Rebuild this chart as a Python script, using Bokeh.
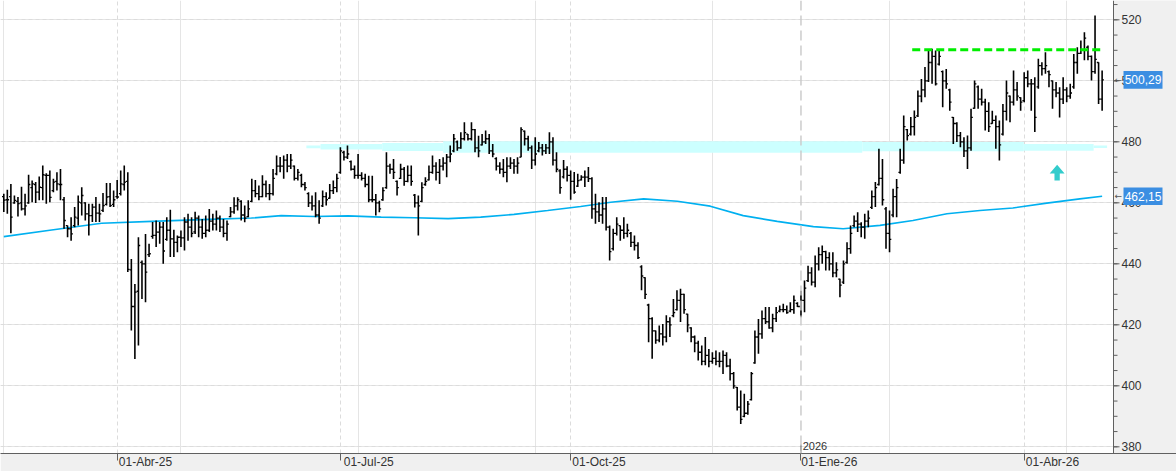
import numpy as np
from bokeh.plotting import figure
from bokeh.models import Range1d, LinearAxis, FixedTicker, Grid, Span, ColumnDataSource
from bokeh.core.properties import value
from bokeh.embed import file_html
from bokeh.resources import INLINE

# ---------------- data (daily OHLC) ----------------
high = [463.0, 464.3, 466.2, 462.4, 461.9, 465.3, 463.0, 469.2, 467.3, 466.8, 468.6, 472.2, 469.7, 470.6, 467.9, 470.0, 471.1, 461.9, 452.6, 455.3,
        458.6, 462.4, 465.1, 460.2, 459.7, 459.7, 461.9, 459.7, 463.2, 466.5, 466.5, 464.0, 467.5, 470.6, 472.2, 470.0, 441.6, 433.4, 448.7, 441.1,
        449.8, 446.6, 453.7, 454.2, 453.7, 453.7, 455.3, 457.7, 451.2, 449.3, 450.9, 455.3,
        456.4, 455.3, 457.1, 455.8, 454.7, 455.8, 458.0, 456.4, 457.5, 455.8, 454.7, 454.2, 458.6, 461.8, 461.8, 460.8, 459.1, 460.8, 467.9, 467.5,
        465.7, 469.0, 467.3, 466.2, 471.1, 475.5, 475.0, 475.5, 476.0, 476.0, 472.2, 471.1, 469.5, 466.8, 463.5, 462.4, 463.5, 460.8, 464.0, 463.5,
        466.2, 467.3, 469.5, 478.2, 477.1, 478.8, 473.9, 472.2, 476.0, 470.0, 469.5, 468.9,
        468.9, 462.9, 460.7, 465.1, 476.6, 472.8, 474.4, 467.3, 472.8, 471.7, 472.2, 472.2, 462.9, 462.4, 466.7, 468.4, 472.2, 475.5, 473.3, 474.4,
        474.9, 476.0, 478.8, 482.6, 480.4, 483.1, 486.4, 482.6, 486.4, 484.2, 482.0, 482.6, 483.7, 482.6, 479.3, 474.9, 473.3, 474.4, 474.9, 474.9,
        474.4, 474.9, 484.8, 483.7, 482.0, 478.8, 481.5, 479.9, 479.3, 479.3, 483.1, 481.5,
        476.6, 471.0, 474.0, 472.0, 470.6, 470.1, 469.5, 469.0, 470.6, 471.7, 468.4, 463.0, 460.2, 461.9, 461.9, 452.6, 451.5, 455.3, 452.6, 455.3,
        453.1, 450.4, 449.3, 447.1, 439.5, 435.6, 426.9, 422.5, 418.1, 419.8, 420.3, 423.1, 422.5, 428.5, 431.3, 431.8, 430.2, 423.6, 419.2, 416.5,
        414.8, 413.2, 416.0, 412.1, 411.0, 411.6, 411.0, 411.6, 411.0, 408.9, 404.5, 399.6,
        398.5, 397.4, 395.0, 404.5, 418.1, 421.9, 424.7, 425.8, 425.8, 423.6, 425.8, 426.3, 426.9, 426.3, 427.4, 429.6, 427.4, 431.2, 434.5, 439.4,
        438.9, 442.7, 445.4, 446.0, 444.3, 443.8, 443.8, 440.5, 435.1, 441.1, 447.1, 452.6, 455.8, 456.9, 453.6, 456.4, 457.5, 464.0, 466.8, 477.7,
        474.4, 458.6, 457.5, 464.6, 467.8, 477.7, 488.6, 484.2, 488.1, 490.3, 496.8, 500.6,
        504.5, 509.9, 510.5, 509.9, 509.9, 503.4, 503.9, 497.4, 488.1, 486.4, 483.2, 481.5, 482.1, 490.8, 500.1, 498.5, 497.4, 494.1, 493.0, 490.2,
        488.6, 487.0, 492.4, 500.1, 495.2, 503.4, 499.6, 494.6, 502.8, 503.4, 500.6, 501.2, 507.2, 506.1, 509.4, 503.4, 500.1, 499.6, 497.9, 501.2,
        497.9, 499.0, 508.8, 511.0, 513.2, 515.9, 511.6, 508.3, 521.4, 506.1, 503.4]

low = [457.0, 456.4, 450.0, 459.7, 455.5, 457.5, 455.8, 459.7, 460.2, 459.9, 460.8, 460.8, 459.7, 460.2, 463.5, 464.0, 460.8, 451.5, 448.7, 447.6,
       452.0, 452.6, 455.8, 454.2, 449.3, 453.7, 453.7, 453.7, 457.0, 459.1, 458.6, 458.6, 461.3, 462.4, 464.0, 437.3, 418.1, 408.8, 413.2, 428.5,
       427.4, 442.2, 448.2, 445.5, 446.6, 440.0, 447.6, 442.2, 442.2, 443.8, 445.5, 444.4,
       447.6, 448.7, 449.8, 448.7, 448.2, 448.7, 450.4, 450.9, 450.9, 450.4, 448.7, 447.6, 455.3, 456.4, 457.5, 454.2, 453.6, 455.3, 460.2, 461.8,
       460.8, 461.8, 461.8, 460.8, 462.4, 469.0, 470.0, 467.9, 470.0, 471.1, 467.3, 467.3, 465.1, 464.0, 458.6, 457.5, 455.3, 453.1, 458.6, 459.1,
       461.3, 462.9, 463.5, 469.5, 473.9, 474.4, 470.6, 467.9, 467.9, 467.3, 465.1, 460.2,
       460.2, 455.8, 456.9, 460.7, 464.6, 469.5, 467.8, 462.4, 467.8, 465.6, 466.7, 465.6, 458.5, 449.3, 460.2, 465.6, 467.3, 469.5, 467.3, 466.2,
       470.6, 468.4, 473.3, 476.6, 477.1, 477.7, 480.4, 480.4, 480.4, 476.6, 474.9, 478.8, 479.3, 476.0, 474.9, 470.6, 469.5, 468.4, 466.7, 471.1,
       469.5, 469.5, 474.9, 478.8, 477.1, 471.1, 472.2, 476.6, 475.5, 476.0, 476.0, 472.2,
       470.0, 463.0, 468.0, 467.0, 461.0, 463.0, 465.2, 467.3, 465.2, 466.8, 454.8, 453.1, 453.7, 453.1, 450.9, 441.1, 444.4, 449.3, 447.6, 448.2,
       448.7, 445.5, 444.4, 441.6, 431.3, 428.5, 414.3, 408.9, 413.8, 414.3, 413.2, 414.3, 416.0, 422.5, 424.7, 420.9, 423.6, 417.6, 414.3, 411.0,
       408.3, 406.7, 406.7, 406.1, 407.2, 406.7, 406.1, 403.9, 406.1, 401.7, 399.0, 391.9,
       387.5, 389.7, 390.5, 395.2, 407.2, 410.5, 415.4, 420.3, 418.7, 417.6, 420.9, 424.1, 424.1, 423.6, 424.1, 423.6, 425.8, 422.5, 424.1, 434.0,
       432.9, 432.3, 437.8, 440.0, 437.8, 437.8, 435.6, 435.6, 429.0, 433.4, 440.0, 443.3, 452.0, 450.4, 448.7, 448.2, 452.0, 458.0, 458.6, 465.7,
       459.1, 444.9, 443.8, 455.3, 455.3, 469.5, 472.8, 480.4, 482.1, 482.1, 488.1, 493.0,
       494.6, 499.6, 499.0, 498.5, 505.0, 491.3, 497.4, 490.2, 479.3, 479.9, 478.2, 475.0, 471.1, 477.1, 490.8, 490.8, 491.9, 483.7, 483.2, 485.9,
       477.7, 473.9, 482.1, 487.0, 486.4, 491.9, 493.5, 490.2, 493.0, 497.9, 490.2, 483.2, 497.4, 501.7, 502.3, 497.9, 490.8, 494.6, 488.0, 492.4,
       493.0, 494.1, 497.4, 502.3, 508.8, 506.7, 506.7, 500.1, 502.3, 492.4, 490.2]

close = [460.9, 461.0, 455.3, 460.8, 459.7, 458.0, 459.0, 466.0, 466.2, 463.5, 465.1, 469.2, 469.0, 461.8, 466.8, 466.2, 466.0, 454.2, 451.5, 449.8,
         455.3, 460.2, 462.4, 456.4, 455.8, 458.6, 456.6, 456.4, 459.1, 461.9, 459.1, 461.0, 461.9, 466.2, 466.8, 438.2, 426.0, 430.7, 446.0, 440.0,
         437.3, 443.3, 449.3, 450.4, 452.0, 444.2, 451.0, 448.2, 447.0, 448.7, 448.5, 453.7,
         452.0, 450.0, 455.0, 452.0, 450.0, 451.0, 454.0, 453.0, 455.0, 452.0, 450.0, 453.0, 457.0, 459.0, 461.0, 456.0, 455.0, 458.0, 464.0, 463.0,
         462.0, 466.0, 463.0, 463.0, 468.0, 472.0, 472.0, 474.0, 472.0, 474.0, 468.0, 470.0, 466.0, 465.0, 460.0, 459.0, 456.0, 455.0, 462.0, 461.0,
         464.0, 465.0, 468.0, 477.0, 475.0, 476.0, 471.0, 469.0, 469.0, 468.0, 466.0, 461.0,
         461.0, 460.0, 458.0, 464.0, 472.0, 471.0, 470.0, 465.0, 471.0, 467.0, 469.0, 467.0, 460.0, 459.0, 465.0, 467.0, 470.0, 472.0, 470.0, 472.0,
         473.0, 475.0, 476.0, 481.0, 478.0, 481.0, 483.0, 481.0, 484.0, 478.0, 477.0, 480.0, 481.0, 477.0, 476.0, 472.0, 471.0, 470.0, 472.0, 473.0,
         472.0, 473.0, 484.0, 481.0, 478.0, 474.0, 476.0, 478.0, 477.0, 478.0, 480.0, 474.0,
         471.0, 465.0, 471.0, 469.0, 467.0, 463.5, 467.3, 468.4, 468.4, 467.9, 458.0, 457.0, 456.0, 458.0, 452.0, 444.0, 450.0, 453.0, 451.0, 450.0,
         451.0, 447.0, 446.0, 442.0, 436.0, 430.0, 422.0, 418.0, 415.0, 417.0, 416.0, 421.0, 420.0, 424.0, 428.0, 430.0, 425.0, 420.0, 416.0, 414.0,
         411.0, 408.0, 410.0, 408.0, 409.0, 408.0, 408.0, 410.0, 406.5, 404.0, 400.0, 393.0,
         389.0, 391.0, 394.0, 404.0, 416.0, 417.0, 422.0, 421.0, 419.0, 422.0, 424.0, 425.0, 425.0, 424.0, 425.0, 428.0, 426.0, 428.0, 432.0, 437.0,
         434.0, 440.0, 443.0, 444.0, 442.0, 440.0, 437.0, 438.0, 433.0, 440.0, 445.0, 450.0, 454.0, 453.0, 452.0, 454.0, 455.0, 462.0, 465.0, 468.0,
         461.0, 450.0, 448.0, 462.0, 465.0, 474.0, 485.0, 482.0, 485.0, 488.0, 495.0, 497.0,
         500.0, 506.0, 508.0, 499.0, 508.0, 500.0, 499.0, 493.0, 486.0, 482.0, 480.0, 477.0, 478.0, 488.0, 499.0, 494.0, 493.0, 490.0, 485.0, 487.0,
         485.0, 479.0, 490.0, 496.0, 493.0, 497.0, 495.0, 493.0, 501.0, 499.0, 499.0, 488.0, 505.0, 504.0, 505.0, 502.0, 497.0, 496.0, 494.0, 497.0,
         495.0, 496.0, 506.0, 509.0, 510.0, 514.0, 508.0, 503.0, 507.0, 494.0, 500.29]

open_ = [462.0, 461.0, 462.0, 460.0, 460.5, 460.0, 458.0, 460.0, 465.0, 466.0, 463.5, 465.0, 469.0, 469.0, 464.0, 467.0, 466.0, 461.0, 452.5, 451.5,
         452.5, 455.0, 460.0, 460.0, 456.4, 455.8, 458.6, 456.6, 457.5, 459.5, 462.0, 459.5, 462.0, 463.0, 466.0, 467.0, 438.0, 426.0, 431.0, 440.5,
         440.0, 443.0, 449.0, 449.3, 450.4, 452.0, 448.0, 451.0, 448.2, 447.0, 448.7, 448.5,
         453.7, 452.0, 450.5, 455.0, 452.0, 450.0, 451.0, 454.0, 453.0, 455.0, 452.0, 450.0, 455.5, 457.0, 459.0, 460.5, 456.0, 455.5, 460.5, 464.0,
         463.0, 462.0, 466.0, 463.0, 463.0, 469.5, 472.0, 472.0, 474.0, 472.0, 472.0, 468.0, 469.0, 466.0, 463.0, 460.0, 459.0, 456.0, 459.0, 462.0,
         461.5, 464.0, 465.0, 470.0, 476.5, 475.0, 473.5, 471.0, 469.0, 469.0, 468.0, 466.0,
         461.0, 461.0, 460.0, 461.0, 465.0, 472.0, 471.0, 467.0, 468.0, 471.0, 467.0, 469.0, 462.5, 460.0, 460.5, 466.0, 467.5, 470.0, 472.0, 470.0,
         472.0, 473.0, 475.0, 477.0, 480.0, 478.0, 481.0, 482.5, 481.0, 484.0, 478.0, 479.0, 480.0, 481.0, 477.0, 474.5, 472.0, 471.0, 470.0, 472.0,
         473.0, 472.0, 475.0, 483.5, 481.0, 478.0, 474.0, 477.0, 478.0, 477.0, 478.0, 480.0,
         474.0, 470.5, 468.5, 471.0, 469.0, 467.0, 465.5, 467.5, 468.4, 468.4, 467.9, 458.0, 457.0, 456.0, 458.0, 452.0, 445.0, 450.0, 452.5, 451.0,
         450.0, 450.0, 447.0, 446.0, 439.0, 435.5, 426.5, 422.0, 418.0, 415.0, 417.0, 416.0, 421.0, 423.0, 425.0, 428.0, 430.0, 423.5, 419.0, 416.0,
         414.0, 411.0, 408.0, 410.0, 408.0, 409.0, 408.0, 408.0, 410.0, 406.5, 404.0, 399.5,
         393.0, 390.0, 391.0, 395.5, 407.5, 416.0, 417.0, 422.0, 421.0, 419.0, 422.0, 424.5, 425.0, 425.0, 424.5, 425.0, 427.0, 426.0, 428.0, 434.5,
         437.0, 434.0, 440.0, 443.0, 444.0, 442.0, 440.0, 437.0, 435.0, 434.0, 440.5, 445.0, 452.5, 454.0, 453.0, 452.0, 454.0, 458.5, 462.0, 466.0,
         468.0, 458.0, 450.0, 456.0, 462.0, 470.0, 474.0, 484.0, 482.5, 485.0, 488.5, 495.0,
         497.0, 500.0, 506.0, 508.0, 505.5, 503.0, 500.0, 497.0, 488.0, 486.0, 482.0, 480.0, 477.0, 478.0, 491.0, 498.0, 494.0, 493.0, 490.0, 486.0,
         487.0, 485.0, 482.5, 490.0, 495.0, 493.0, 497.0, 494.5, 493.5, 501.0, 499.0, 499.0, 498.0, 505.0, 504.0, 503.0, 500.0, 497.0, 496.0, 494.0,
         497.0, 495.0, 498.0, 506.0, 509.0, 510.0, 511.0, 508.0, 503.0, 506.0, 494.0]

x_tick_index = [32, 95, 160, 225, 288]
x_tick_labels = ["01-Abr-25", "01-Jul-25", "01-Oct-25", "01-Ene-26", "01-Abr-26"]
y_ticks = [380, 400, 420, 440, 460, 480, 500, 520]
y_minor_ticks = [375 + 5 * i for i in range(31)]

ma_index = [0, 13.5, 27.6, 41.7, 55.8, 69.9, 78.3, 87.6, 97.2, 106.5, 115.8, 125.4, 134.6, 144, 153.5, 162.8,
            171.3, 180.6, 190.1, 199.4, 208.7, 218.3, 228.5, 236.9, 247.3, 256.6, 266.2, 275.5, 284.8, 294.4, 303.7, 310]
ma_value = [448.9, 451.1, 453.3, 453.9, 454.5, 455.0, 455.8, 455.5, 455.7, 455.3, 455.1, 454.8, 455.3, 456.2, 457.5, 458.8,
            460.2, 461.3, 460.5, 458.9, 455.8, 453.9, 452.2, 451.5, 452.6, 454.2, 456.4, 457.5, 458.3, 459.9, 461.3, 462.15]

# support zone (index from, index to, top, bottom)
zone_from = [85.4, 89.4, 106.8, 124.0, 242.3, 287.9, 307.6]
zone_to = [89.4, 106.8, 124.0, 242.3, 287.9, 307.6, 311.4]
zone_top = [478.8, 479.3, 479.6, 480.2, 479.9, 479.3, 478.8]
zone_bottom = [477.9, 477.5, 477.0, 476.4, 476.9, 477.1, 478.0]

resistance_level = 510.2
resistance_from, resistance_to = 256.4, 310.0
last_close = 500.29
ma_last = 462.15
year_index = 225
year_label = "2026"

FONT = "Liberation Sans"
n = len(high)
idx = np.arange(n)

# ---------------- geometry helpers (screen px -> data) ----------------
W, H = 1176, 471
FRAME_H = 453
X0, PPB = -0.93, 3.543          # data x at left edge, pixels per bar
Y_TOP, PPU = 526.33, 3.05       # data y at top edge, pixels per unit
def dx(px):
    return X0 + px / PPB
def dy(py):
    return Y_TOP - py / PPU
AXIS_PX = 1113                   # price axis line

p = figure(width=W, height=H, output_backend="svg", toolbar_location=None,
           x_range=Range1d(dx(0), dx(W)), y_range=Range1d(dy(FRAME_H), Y_TOP),
           x_axis_location=None, y_axis_location=None,
           min_border_left=0, min_border_top=0, min_border_right=0, min_border_bottom=18)
p.background_fill_color = "white"
p.border_fill_color = "#f0f0f0"
p.outline_line_color = None

label_pos = [t + 8 for t in x_tick_index]
xax = LinearAxis(ticker=FixedTicker(ticks=label_pos, minor_ticks=x_tick_index),
                 major_label_overrides={lp: lab for lp, lab in zip(label_pos, x_tick_labels)},
                 axis_line_color="#606060", major_tick_out=0, major_tick_in=0,
                 minor_tick_out=7, minor_tick_in=0, minor_tick_line_color="#606060",
                 major_label_standoff=-6, major_label_text_font=FONT,
                 major_label_text_font_size="12px", major_label_text_color="#333333")
p.add_layout(xax, "below")

yticker = FixedTicker(ticks=y_ticks, minor_ticks=y_minor_ticks)
p.add_layout(Grid(dimension=1, ticker=yticker, grid_line_color="#dcdcdc",
                  grid_line_dash="4 3", grid_line_width=1))
p.add_layout(Grid(dimension=0, ticker=FixedTicker(ticks=[t for t in x_tick_index if t != year_index]),
                  grid_line_color="#dcdcdc", grid_line_dash="4 3", grid_line_width=1))
p.add_layout(Span(location=year_index, dimension="height", line_color="#cccccc",
                  line_dash="10 5", line_width=1.5))

# zone
p.quad(left=zone_from, right=zone_to, top=zone_top, bottom=zone_bottom,
       fill_color="#ccffff", line_color=None)

# moving average
p.line(ma_index, ma_value, line_color="#00b0f0", line_width=1.6)

# OHLC bars
src = ColumnDataSource(dict(x=idx, h=high, l=low, o=open_, c=close, xl=idx - 0.5, xr=idx + 0.5))
p.segment("x", "l", "x", "h", source=src, line_color="black", line_width=1.6)
p.segment("xl", "o", "x", "o", source=src, line_color="black", line_width=1.3)
p.segment("x", "c", "xr", "c", source=src, line_color="black", line_width=1.3)

# resistance
p.segment(x0=[resistance_from], y0=[resistance_level], x1=[resistance_to], y1=[resistance_level],
          line_color="#00ee00", line_width=3, line_dash="8 4")

# arrow
ax0 = 297.3
p.patch([ax0, ax0 + 2.1, ax0 + 0.75, ax0 + 0.75, ax0 - 0.75, ax0 - 0.75, ax0 - 2.1],
        [472.5, 469.6, 469.6, 467.3, 467.3, 469.6, 469.6], fill_color="#33cccc", line_color=None)

# year marker
p.segment(x0=[year_index], y0=[dy(444)], x1=[year_index], y1=[dy(FRAME_H)], line_color="#606060", line_width=1)
p.text(x=[year_index + 0.5], y=[dy(445)], text=[year_label], text_font=value(FONT),
       text_font_size="11px", text_color="#333333", text_align="left", text_baseline="middle")

# ---------------- price axis column (right) ----------------
p.quad(left=[dx(AXIS_PX)], right=[dx(W + 2)], top=[dy(-2)], bottom=[dy(FRAME_H + 2)],
       fill_color="#f0f0f0", line_color=None)
p.segment(x0=[dx(AXIS_PX)], y0=[dy(0)], x1=[dx(AXIS_PX)], y1=[dy(FRAME_H)],
          line_color="#606060", line_width=1)
p.segment(x0=[dx(AXIS_PX)] * len(y_minor_ticks), y0=y_minor_ticks,
          x1=[dx(AXIS_PX + 4)] * len(y_minor_ticks), y1=y_minor_ticks, line_color="#606060", line_width=1)
p.segment(x0=[dx(AXIS_PX)] * len(y_ticks), y0=y_ticks,
          x1=[dx(AXIS_PX + 6)] * len(y_ticks), y1=y_ticks, line_color="#606060", line_width=1)
p.text(x=[dx(AXIS_PX + 8)] * len(y_ticks), y=y_ticks, text=[str(t) for t in y_ticks],
       text_font=value(FONT), text_font_size="12px", text_color="#333333",
       text_align="left", text_baseline="middle")

# price boxes
box_vals = [last_close, ma_last]
box_txt = [f"{v:.2f}".replace(".", ",") for v in box_vals]
half_h = 8.8 / PPU
p.quad(left=[dx(1123)] * 2, right=[dx(1162)] * 2, top=[v + half_h for v in box_vals],
       bottom=[v - half_h for v in box_vals], fill_color="#3b8ee2", line_color=None)
p.text(x=[dx(1142.5)] * 2, y=box_vals, text=box_txt, text_font=value(FONT),
       text_font_size="12px", text_color="white", text_align="center", text_baseline="middle")
p.text(x=[dx(1114)] * 2, y=box_vals, text=["\u2190"] * 2, text_font=value("DejaVu Sans"),
       text_font_size="9px", text_color="#555555", text_align="left", text_baseline="middle")

open("out.html", "w").write(file_html(p, INLINE))
